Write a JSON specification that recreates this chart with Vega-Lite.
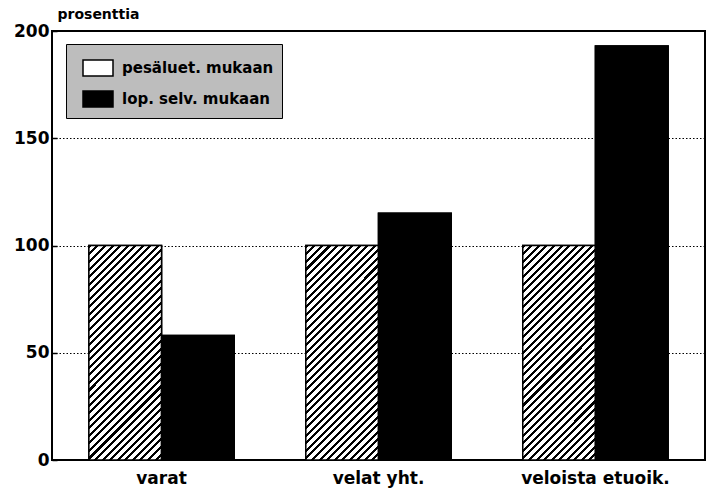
{
  "$schema": "https://vega.github.io/schema/vega-lite/v6.json",
  "width": 653,
  "height": 429,
  "autosize": "none",
  "padding": {"left": 52, "top": 31, "right": 4, "bottom": 31},
  "background": "#ffffff",
  "data": {
    "values": [
      {"kohde": "varat", "tyyppi": "pesäluet. mukaan", "arvo": 100},
      {"kohde": "varat", "tyyppi": "lop. selv. mukaan", "arvo": 58},
      {"kohde": "velat yht.", "tyyppi": "pesäluet. mukaan", "arvo": 100},
      {"kohde": "velat yht.", "tyyppi": "lop. selv. mukaan", "arvo": 115},
      {"kohde": "veloista etuoik.", "tyyppi": "pesäluet. mukaan", "arvo": 100},
      {"kohde": "veloista etuoik.", "tyyppi": "lop. selv. mukaan", "arvo": 193}
    ]
  },
  "encoding": {
    "x": {
      "field": "kohde", "type": "nominal", "sort": null,
      "scale": {"paddingInner": 0.33, "paddingOuter": 0.17},
      "axis": {"title": null, "labelAngle": 0, "ticks": false, "domain": false, "labelPadding": 10,
               "labelFont": "DejaVu Sans", "labelFontWeight": "bold", "labelFontSize": 17, "labelColor": "#000"}
    },
    "xOffset": {"field": "tyyppi", "type": "nominal",
                "scale": {"domain": ["pesäluet. mukaan", "lop. selv. mukaan"], "paddingInner": 0, "paddingOuter": 0}},
    "y": {
      "field": "arvo", "type": "quantitative",
      "scale": {"domain": [0, 200], "nice": false},
      "axis": {"title": "prosenttia", "values": [0, 50, 100, 150, 200], "grid": true,
               "gridColor": "#000", "gridDash": [1.5, 2], "gridWidth": 1, "gridOpacity": 1,
               "domain": false, "tickSize": -5, "tickColor": "#000", "tickWidth": 1.5,
               "labelFont": "DejaVu Sans", "labelFontWeight": "bold", "labelFontSize": 17, "labelColor": "#000", "labelPadding": 8,
               "titleAngle": 0, "titleAlign": "left", "titleBaseline": "middle", "titleX": 5, "titleY": -17,
               "titleFont": "DejaVu Sans", "titleFontWeight": "bold", "titleFontSize": 14, "titleColor": "#000"}
    }
  },
  "layer": [
    {
      "mark": {"type": "bar", "stroke": "#000", "strokeWidth": 1.5},
      "encoding": {
        "fill": {
          "field": "tyyppi", "type": "nominal",
          "scale": {"domain": ["pesäluet. mukaan", "lop. selv. mukaan"], "range": ["#ffffff", "#000000"]},
          "legend": {
            "orient": "none", "legendX": 14, "legendY": 13, "title": null,
            "fillColor": "#bdbdbd", "strokeColor": "#000", "padding": 8,
            "symbolType": "M-1,-0.533L1,-0.533L1,0.533L-1,0.533Z", "symbolSize": 900,
            "symbolStrokeColor": "#000", "symbolStrokeWidth": 1.5, "symbolOffset": 8,
            "labelFont": "DejaVu Sans", "labelFontWeight": "bold", "labelFontSize": 15, "labelColor": "#000",
            "labelOffset": 8, "rowPadding": 4
          }
        }
      }
    },
    {
      "mark": {"type": "bar", "stroke": "#000", "strokeWidth": 1.5},
      "encoding": {
        "fill": {
          "condition": {
            "test": "datum.tyyppi === 'pesäluet. mukaan'",
            "value": {"gradient": "linear", "x1": 0, "y1": 0, "x2": 0.4071, "y2": 1.201, "stops": [
                {"offset": 0, "color": "#000"}, {"offset": 0.0105, "color": "#000"}, {"offset": 0.0105, "color": "#fff"}, {"offset": 0.0263, "color": "#fff"},
                {"offset": 0.0263, "color": "#000"}, {"offset": 0.0368, "color": "#000"}, {"offset": 0.0368, "color": "#fff"}, {"offset": 0.0526, "color": "#fff"},
                {"offset": 0.0526, "color": "#000"}, {"offset": 0.0632, "color": "#000"}, {"offset": 0.0632, "color": "#fff"}, {"offset": 0.0789, "color": "#fff"},
                {"offset": 0.0789, "color": "#000"}, {"offset": 0.0895, "color": "#000"}, {"offset": 0.0895, "color": "#fff"}, {"offset": 0.1053, "color": "#fff"},
                {"offset": 0.1053, "color": "#000"}, {"offset": 0.1158, "color": "#000"}, {"offset": 0.1158, "color": "#fff"}, {"offset": 0.1316, "color": "#fff"},
                {"offset": 0.1316, "color": "#000"}, {"offset": 0.1421, "color": "#000"}, {"offset": 0.1421, "color": "#fff"}, {"offset": 0.1579, "color": "#fff"},
                {"offset": 0.1579, "color": "#000"}, {"offset": 0.1684, "color": "#000"}, {"offset": 0.1684, "color": "#fff"}, {"offset": 0.1842, "color": "#fff"},
                {"offset": 0.1842, "color": "#000"}, {"offset": 0.1947, "color": "#000"}, {"offset": 0.1947, "color": "#fff"}, {"offset": 0.2105, "color": "#fff"},
                {"offset": 0.2105, "color": "#000"}, {"offset": 0.2211, "color": "#000"}, {"offset": 0.2211, "color": "#fff"}, {"offset": 0.2368, "color": "#fff"},
                {"offset": 0.2368, "color": "#000"}, {"offset": 0.2474, "color": "#000"}, {"offset": 0.2474, "color": "#fff"}, {"offset": 0.2632, "color": "#fff"},
                {"offset": 0.2632, "color": "#000"}, {"offset": 0.2737, "color": "#000"}, {"offset": 0.2737, "color": "#fff"}, {"offset": 0.2895, "color": "#fff"},
                {"offset": 0.2895, "color": "#000"}, {"offset": 0.3, "color": "#000"}, {"offset": 0.3, "color": "#fff"}, {"offset": 0.3158, "color": "#fff"},
                {"offset": 0.3158, "color": "#000"}, {"offset": 0.3263, "color": "#000"}, {"offset": 0.3263, "color": "#fff"}, {"offset": 0.3421, "color": "#fff"},
                {"offset": 0.3421, "color": "#000"}, {"offset": 0.3526, "color": "#000"}, {"offset": 0.3526, "color": "#fff"}, {"offset": 0.3684, "color": "#fff"},
                {"offset": 0.3684, "color": "#000"}, {"offset": 0.3789, "color": "#000"}, {"offset": 0.3789, "color": "#fff"}, {"offset": 0.3947, "color": "#fff"},
                {"offset": 0.3947, "color": "#000"}, {"offset": 0.4053, "color": "#000"}, {"offset": 0.4053, "color": "#fff"}, {"offset": 0.4211, "color": "#fff"},
                {"offset": 0.4211, "color": "#000"}, {"offset": 0.4316, "color": "#000"}, {"offset": 0.4316, "color": "#fff"}, {"offset": 0.4474, "color": "#fff"},
                {"offset": 0.4474, "color": "#000"}, {"offset": 0.4579, "color": "#000"}, {"offset": 0.4579, "color": "#fff"}, {"offset": 0.4737, "color": "#fff"},
                {"offset": 0.4737, "color": "#000"}, {"offset": 0.4842, "color": "#000"}, {"offset": 0.4842, "color": "#fff"}, {"offset": 0.5, "color": "#fff"},
                {"offset": 0.5, "color": "#000"}, {"offset": 0.5105, "color": "#000"}, {"offset": 0.5105, "color": "#fff"}, {"offset": 0.5263, "color": "#fff"},
                {"offset": 0.5263, "color": "#000"}, {"offset": 0.5368, "color": "#000"}, {"offset": 0.5368, "color": "#fff"}, {"offset": 0.5526, "color": "#fff"},
                {"offset": 0.5526, "color": "#000"}, {"offset": 0.5632, "color": "#000"}, {"offset": 0.5632, "color": "#fff"}, {"offset": 0.5789, "color": "#fff"},
                {"offset": 0.5789, "color": "#000"}, {"offset": 0.5895, "color": "#000"}, {"offset": 0.5895, "color": "#fff"}, {"offset": 0.6053, "color": "#fff"},
                {"offset": 0.6053, "color": "#000"}, {"offset": 0.6158, "color": "#000"}, {"offset": 0.6158, "color": "#fff"}, {"offset": 0.6316, "color": "#fff"},
                {"offset": 0.6316, "color": "#000"}, {"offset": 0.6421, "color": "#000"}, {"offset": 0.6421, "color": "#fff"}, {"offset": 0.6579, "color": "#fff"},
                {"offset": 0.6579, "color": "#000"}, {"offset": 0.6684, "color": "#000"}, {"offset": 0.6684, "color": "#fff"}, {"offset": 0.6842, "color": "#fff"},
                {"offset": 0.6842, "color": "#000"}, {"offset": 0.6947, "color": "#000"}, {"offset": 0.6947, "color": "#fff"}, {"offset": 0.7105, "color": "#fff"},
                {"offset": 0.7105, "color": "#000"}, {"offset": 0.7211, "color": "#000"}, {"offset": 0.7211, "color": "#fff"}, {"offset": 0.7368, "color": "#fff"},
                {"offset": 0.7368, "color": "#000"}, {"offset": 0.7474, "color": "#000"}, {"offset": 0.7474, "color": "#fff"}, {"offset": 0.7632, "color": "#fff"},
                {"offset": 0.7632, "color": "#000"}, {"offset": 0.7737, "color": "#000"}, {"offset": 0.7737, "color": "#fff"}, {"offset": 0.7895, "color": "#fff"},
                {"offset": 0.7895, "color": "#000"}, {"offset": 0.8, "color": "#000"}, {"offset": 0.8, "color": "#fff"}, {"offset": 0.8158, "color": "#fff"},
                {"offset": 0.8158, "color": "#000"}, {"offset": 0.8263, "color": "#000"}, {"offset": 0.8263, "color": "#fff"}, {"offset": 0.8421, "color": "#fff"},
                {"offset": 0.8421, "color": "#000"}, {"offset": 0.8526, "color": "#000"}, {"offset": 0.8526, "color": "#fff"}, {"offset": 0.8684, "color": "#fff"},
                {"offset": 0.8684, "color": "#000"}, {"offset": 0.8789, "color": "#000"}, {"offset": 0.8789, "color": "#fff"}, {"offset": 0.8947, "color": "#fff"},
                {"offset": 0.8947, "color": "#000"}, {"offset": 0.9053, "color": "#000"}, {"offset": 0.9053, "color": "#fff"}, {"offset": 0.9211, "color": "#fff"},
                {"offset": 0.9211, "color": "#000"}, {"offset": 0.9316, "color": "#000"}, {"offset": 0.9316, "color": "#fff"}, {"offset": 0.9474, "color": "#fff"},
                {"offset": 0.9474, "color": "#000"}, {"offset": 0.9579, "color": "#000"}, {"offset": 0.9579, "color": "#fff"}, {"offset": 0.9737, "color": "#fff"},
                {"offset": 0.9737, "color": "#000"}, {"offset": 0.9842, "color": "#000"}, {"offset": 0.9842, "color": "#fff"}, {"offset": 1, "color": "#fff"}
            ]}
          },
          "value": "#000000"
        }
      }
    }
  ],
  "config": {
    "view": {"stroke": "#000", "strokeWidth": 2},
    "font": "DejaVu Sans"
  }
}
